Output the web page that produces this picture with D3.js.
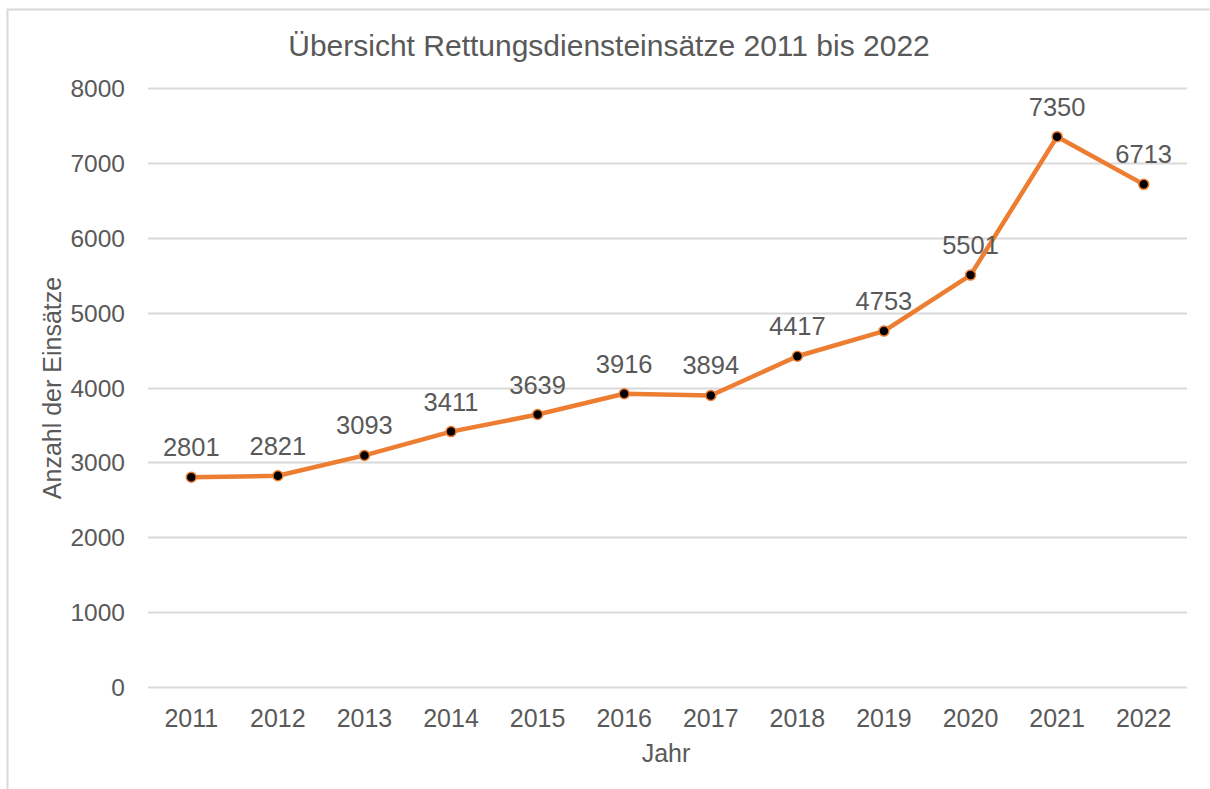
<!DOCTYPE html>
<html>
<head>
<meta charset="utf-8">
<script src="https://cdn.jsdelivr.net/npm/d3@7"></script>
<style>
  body { margin: 0; background: #fff; }
  svg text { font-family: "Liberation Sans", Arial, sans-serif; fill: #595959; }
</style>
</head>
<body>
<div class="chart"></div>
<script>
const years = ["2011", "2012", "2013", "2014", "2015", "2016", "2017", "2018", "2019", "2020", "2021", "2022"];
const einsaetze = [2801, 2821, 3093, 3411, 3639, 3916, 3894, 4417, 4753, 5501, 7350, 6713];
const yTicks = [0, 1000, 2000, 3000, 4000, 5000, 6000, 7000, 8000];

const w = 1210;
const h = 789;
const plotLeft = 148, plotRight = 1187, plotTop = 88, plotBottom = 687;

const svg = d3.select(".chart")
    .append("svg")
    .attr("width", w)
    .attr("height", h)
    .style("display", "block");

// chart frame
svg.append("rect")
    .attr("x", 7.5)
    .attr("y", 9.5)
    .attr("width", w + 20)
    .attr("height", h + 20)
    .attr("fill", "#fff")
    .attr("stroke", "#d9d9d9")
    .attr("stroke-width", 2);

const x = d3.scalePoint()
    .domain(years)
    .range([plotLeft, plotRight])
    .padding(0.5);

const y = d3.scaleLinear()
    .domain([0, 8000])
    .range([plotBottom, plotTop]);

// grid lines
svg.append("g")
    .selectAll("line")
    .data(yTicks)
    .enter()
    .append("line")
    .attr("x1", plotLeft)
    .attr("x2", plotRight)
    .attr("y1", d => Math.round(y(d)) + 0.5)
    .attr("y2", d => Math.round(y(d)) + 0.5)
    .attr("stroke", "#d9d9d9")
    .attr("stroke-width", 2);

// y tick labels
svg.append("g")
    .selectAll("text")
    .data(yTicks)
    .enter()
    .append("text")
    .attr("x", 125)
    .attr("y", d => y(d) + 9)
    .attr("text-anchor", "end")
    .style("font-size", "24.5px")
    .text(d => d);

// x tick labels
svg.append("g")
    .selectAll("text")
    .data(years)
    .enter()
    .append("text")
    .attr("x", d => x(d))
    .attr("y", 727)
    .attr("text-anchor", "middle")
    .style("font-size", "25px")
    .text(d => d);

// title
svg.append("text")
    .attr("x", 609)
    .attr("y", 56)
    .attr("text-anchor", "middle")
    .style("font-size", "30px")
    .text("Übersicht Rettungsdiensteinsätze 2011 bis 2022");

// axis titles
svg.append("text")
    .attr("x", 666)
    .attr("y", 762)
    .attr("text-anchor", "middle")
    .style("font-size", "25px")
    .text("Jahr");

svg.append("text")
    .attr("transform", "translate(61,388) rotate(-90)")
    .attr("text-anchor", "middle")
    .style("font-size", "25px")
    .text("Anzahl der Einsätze");

const data = years.map((d, i) => ({ year: d, value: einsaetze[i] }));

const line = d3.line()
    .x(d => x(d.year))
    .y(d => y(d.value));

svg.append("path")
    .datum(data)
    .attr("d", line)
    .attr("fill", "none")
    .attr("stroke", "#ed7d31")
    .attr("stroke-width", 4.5)
    .attr("stroke-linejoin", "round")
    .attr("stroke-linecap", "round");

svg.append("g")
    .selectAll("circle")
    .data(data)
    .enter()
    .append("circle")
    .attr("cx", d => x(d.year))
    .attr("cy", d => y(d.value))
    .attr("r", 5)
    .attr("fill", "#000")
    .attr("stroke", "#ed7d31")
    .attr("stroke-width", 1.5);

// data labels
svg.append("g")
    .selectAll("text")
    .data(data)
    .enter()
    .append("text")
    .attr("x", d => x(d.year))
    .attr("y", d => y(d.value) - 21)
    .attr("text-anchor", "middle")
    .style("font-size", "25.5px")
    .text(d => d.value);
</script>
</body>
</html>
